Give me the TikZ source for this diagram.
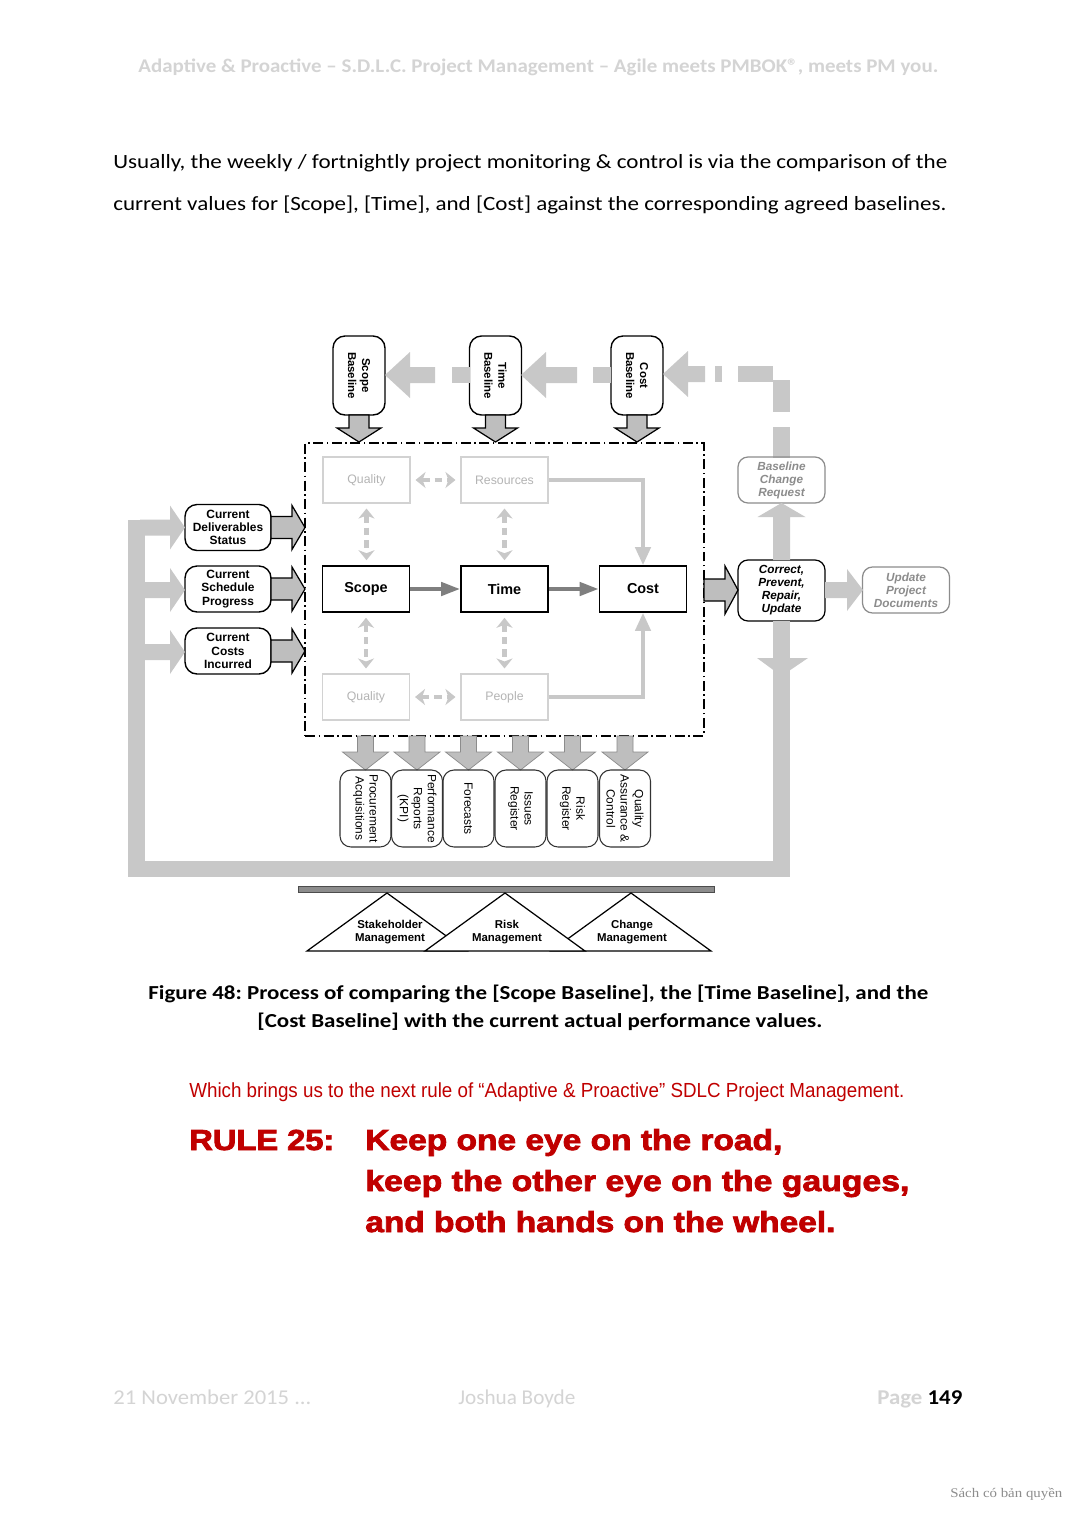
\documentclass[tikz,border=0pt]{standalone}
\usepackage{graphicx}
\usepackage{fontspec}
\setmainfont{Carlito}
\newfontfamily\arial{Liberation Sans}
\newfontfamily\rulefont[FakeBold=2.5]{Liberation Sans}
\newfontfamily\wmfont{Liberation Serif}
\usetikzlibrary{arrows.meta}
\frenchspacing
\newlength\pxu \setlength\pxu{0.02cm}
\newcommand\fitw[2]{\resizebox{#1\pxu}{\height}{#2}}
\definecolor{lgray}{HTML}{C8C8C8}
\definecolor{bgray}{HTML}{BEBEBE}
\definecolor{dgray}{HTML}{7F7F7F}
\definecolor{boxgray}{HTML}{D2D2D2}
\definecolor{txtgray}{HTML}{B4B4B4}
\definecolor{itgray}{HTML}{8C8C8C}
\definecolor{hdr}{HTML}{D4D4D4}
\definecolor{rulered}{HTML}{C00000}
% block arrows: style, from, to(tip), centre, shaft half, head half, head length
\newcommand\blkR[7]{\path[#1] (#2,{#4-#5}) -- ({#3-#7},{#4-#5}) -- ({#3-#7},{#4-#6}) -- (#3,#4) -- ({#3-#7},{#4+#6}) -- ({#3-#7},{#4+#5}) -- (#2,{#4+#5}) -- cycle;}
\newcommand\blkL[7]{\path[#1] (#2,{#4-#5}) -- ({#3+#7},{#4-#5}) -- ({#3+#7},{#4-#6}) -- (#3,#4) -- ({#3+#7},{#4+#6}) -- ({#3+#7},{#4+#5}) -- (#2,{#4+#5}) -- cycle;}
% style, x centre, from y, to y (tip), shaft half, head half, head length
\newcommand\blkD[7]{\path[#1] ({#2-#5},#3) -- ({#2-#5},{#4-#7}) -- ({#2-#6},{#4-#7}) -- (#2,#4) -- ({#2+#6},{#4-#7}) -- ({#2+#5},{#4-#7}) -- ({#2+#5},#3) -- cycle;}
\newcommand\blkU[7]{\path[#1] ({#2-#5},#3) -- ({#2-#5},{#4+#7}) -- ({#2-#6},{#4+#7}) -- (#2,#4) -- ({#2+#6},{#4+#7}) -- ({#2+#5},{#4+#7}) -- ({#2+#5},#3) -- cycle;}
\tikzset{
  lg/.style={fill=lgray},
  bl/.style={fill=bgray,draw=black,line width=0.7pt},
  bd/.style={fill=bgray,draw=itgray,line width=0.4pt},
  txt/.style={anchor=base west,inner sep=0pt},
  basebox/.style={draw=black,line width=0.8pt,rounded corners=0.24cm,rotate=-90,align=center,
    minimum width=1.58cm,minimum height=1.04cm,inner sep=0pt,font=\arial\bfseries\fontsize{6.5}{8}\selectfont},
  inbox/.style={draw=black,line width=0.8pt,rounded corners=0.24cm,align=center,
    minimum width=1.72cm,minimum height=0.92cm,inner sep=0pt,font=\arial\bfseries\fontsize{6.8}{7.5}\selectfont},
  sq/.style={draw=black,line width=0.9pt,minimum width=1.74cm,minimum height=0.92cm,inner sep=0pt,
    font=\arial\bfseries\fontsize{8.2}{9}\selectfont},
  gbox/.style={draw=boxgray,line width=0.6pt,text=txtgray,minimum width=1.74cm,minimum height=0.92cm,inner sep=0pt,
    font=\arial\fontsize{7}{8}\selectfont},
  itbox/.style={draw=itgray,line width=0.7pt,text=itgray,rounded corners=0.2cm,align=center,
    minimum width=1.74cm,minimum height=0.92cm,inner sep=0pt,font=\arial\bfseries\itshape\fontsize{6.7}{7.4}\selectfont},
  outbox/.style={draw=black!80,line width=0.6pt,rounded corners=0.22cm,rotate=-90,align=center,
    minimum width=1.54cm,minimum height=1.02cm,inner sep=0pt,font=\arial\fontsize{6.8}{8}\selectfont},
  dbl/.style={draw=lgray,line width=2.8pt,dash pattern=on 0.15cm off 0.1cm,
    {Stealth[length=0.2cm,width=0.32cm,inset=0.06cm]}-{Stealth[length=0.2cm,width=0.32cm,inset=0.06cm]},
    shorten <=0.1cm,shorten >=0.1cm},
  ddark/.style={draw=dgray,line width=2.4pt,-{Triangle[length=0.38cm,width=0.26cm]}},
  dlight/.style={draw=lgray,line width=2.3pt,-{Triangle[length=0.36cm,width=0.3cm]}},
  tri/.style={draw=black,line width=0.7pt,fill=white,line join=miter},
  trit/.style={align=center,inner sep=0pt,font=\arial\bfseries\fontsize{6.5}{7.4}\selectfont},
}
\begin{document}
\begin{tikzpicture}[x=0.02cm,y=-0.02cm]
\path[use as bounding box,fill=white] (0,0) rectangle (1077,1521);

% ---------- page text ----------
\node[txt,text=hdr,font=\bfseries\fontsize{11}{13}\selectfont] (header) at (138,72)
  {\fitw{800}{Adaptive \& Proactive – S.D.L.C. Project Management – Agile meets PMBOK®, meets PM you.}};
\node[txt,font=\fontsize{11.5}{14}\selectfont] (body1) at (113,168)
  {\fitw{834}{Usually, the weekly / fortnightly project monitoring \& control is via the comparison of the}};
\node[txt,font=\fontsize{11.5}{14}\selectfont] (body2) at (113,210)
  {\fitw{833}{current values for [Scope], [Time], and [Cost] against the corresponding agreed baselines.}};

% ---------- baselines ----------
\node[basebox] (sb) at (359,375.5) {Scope\\Baseline};
\node[basebox] (tb) at (495.5,375.5) {Time\\Baseline};
\node[basebox] (cb) at (637,375.5) {Cost\\Baseline};

% grey dashed feedback along the top
\blkL{lg}{435}{385}{375}{8}{23}{25}
\fill[lgray] (452,367) rectangle (470,383);
\blkL{lg}{577}{521}{375}{8}{23}{25}
\fill[lgray] (593,367) rectangle (611,383);
\blkL{lg}{705}{663}{374}{8}{23}{25}
\fill[lgray] (715,366) rectangle (722,382);
\fill[lgray] (738,366) rectangle (773,382);
\fill[lgray] (773,380) rectangle (790,412);
\fill[lgray] (773,427) rectangle (790,458);

% down arrows from baselines
\blkD{bl}{359}{415}{442}{10}{22}{14}
\blkD{bl}{495.5}{415}{442}{10}{22}{14}
\blkD{bl}{637}{415}{442}{10}{22}{14}

% ---------- frame ----------
\node[draw=black,line width=0.8pt,dash pattern=on 0.2cm off 0.07cm on 0.03cm off 0.07cm,
  minimum width=7.98cm,minimum height=5.86cm,inner sep=0pt] (frame) at (504.5,589.5) {};

\node[gbox] (q1) at (366.5,480) {Quality};
\node[gbox] (res) at (504.5,480) {Resources};
\node[gbox] (q2) at (366,697) {Quality};
\node[gbox] (ppl) at (504.5,697) {People};
\node[sq] (scope) at (366,589) {Scope};
\node[sq] (time) at (504.5,589) {Time};
\node[sq] (cost) at (643,589) {Cost};

\draw[ddark] (scope.east) -- (time.west);
\draw[ddark] (time.east) -- (cost.west);
\draw[dlight] (res.east) -| (cost.north);
\draw[dlight] (ppl.east) -| (cost.south);
\draw[dbl] (q1.east) -- (res.west);
\draw[dbl] (q2.east) -- (ppl.west);
\draw[dbl] (q1.south) -- (q1.south |- scope.north);
\draw[dbl] (res.south) -- (res.south |- time.north);
\draw[dbl] (scope.south) -- (scope.south |- q2.north);
\draw[dbl] (time.south) -- (time.south |- ppl.north);

% ---------- left inputs ----------
\node[inbox] (cds) at (228,527.5) {Current\\Deliverables\\Status};
\node[inbox] (csp) at (228,589) {Current\\Schedule\\Progress};
\node[inbox] (cci) at (228,651) {Current\\Costs\\Incurred};
\blkR{bl}{271}{305}{527.5}{11}{22}{13}
\blkR{bl}{271}{305}{589}{11}{22}{13}
\blkR{bl}{271}{305}{651}{11}{22}{13}

% ---------- right side ----------
\node[itbox] (bcr) at (781.5,480) {Baseline\\Change\\Request};
\node[itbox,draw=black,text=black,minimum height=1.22cm] (cpr) at (781.5,590.5) {Correct,\\Prevent,\\Repair,\\Update};
\node[itbox] (upd) at (906,590) {Update\\Project\\Documents};
\blkR{bl}{704}{738}{590}{11}{24}{13}
\blkR{lg}{825}{863}{590}{8}{21}{16}
\blkU{lg}{781.5}{560}{503}{8.5}{24}{14}

% big feedback loop
\fill[lgray] (773,621) rectangle (790,877);
\fill[lgray] (757,658) -- (808,658) -- (781.5,676) -- cycle;
\fill[lgray] (128,861) rectangle (790,877);
\fill[lgray] (128,519.5) rectangle (145,877);
\blkR{lg}{140}{185}{527.5}{8}{22}{15}
\blkR{lg}{140}{185}{590}{8}{22}{15}
\blkR{lg}{140}{185}{652}{8}{22}{15}

% ---------- outputs ----------
\foreach \xx/\nm/\tx in {365.5/o1/{Procurement\\Acquisitions},417/o2/{Performance\\Reports\\(KPI)},
  468.5/o3/{Forecasts},520.5/o4/{Issues\\Register},572.5/o5/{Risk\\Register},625/o6/{Quality\\Assurance \&\\Control}}{
  \blkD{bd}{\xx}{736}{770}{8}{23}{18}
  \node[outbox] (\nm) at (\xx,808.5) {\tx};
}

% ---------- foundation ----------
\path[fill=gray!90,draw=black!70,line width=0.5pt] (298,886) rectangle (714,892);
\path[tri] (387,893) -- (467,951) -- (307,951) -- cycle;
\path[tri] (631,893) -- (711,951) -- (551,951) -- cycle;
\path[tri] (505,893) -- (585,951) -- (425,951) -- cycle;
\node[trit] (sm) at (390,932) {Stakeholder\\Management};
\node[trit] (rm) at (507,932) {Risk\\Management};
\node[trit] (chm) at (632,932) {Change\\Management};

% ---------- caption and rule ----------
\node[txt,font=\bfseries\fontsize{11.3}{14}\selectfont] (cap1) at (148,999)
  {\fitw{780}{Figure 48: Process of comparing the [Scope Baseline], the [Time Baseline], and the}};
\node[txt,font=\bfseries\fontsize{11.3}{14}\selectfont] (cap2) at (257,1027)
  {\fitw{565}{[Cost Baseline] with the current actual performance values.}};
\node[txt,text=rulered,font=\arial\fontsize{11.6}{14}\selectfont] (which) at (189,1097)
  {\fitw{715}{Which brings us to the next rule of “Adaptive \& Proactive” SDLC Project Management.}};
\node[txt,text=rulered,font=\rulefont\bfseries\fontsize{16.5}{20}\selectfont] (rule) at (189,1150) {\fitw{145}{RULE 25:}};
\node[txt,text=rulered,font=\rulefont\bfseries\fontsize{16.5}{20}\selectfont] (r1) at (365,1150) {\fitw{417}{Keep one eye on the road,}};
\node[txt,text=rulered,font=\rulefont\bfseries\fontsize{16.5}{20}\selectfont] (r2) at (365,1191) {\fitw{544}{keep the other eye on the gauges,}};
\node[txt,text=rulered,font=\rulefont\bfseries\fontsize{16.5}{20}\selectfont] (r3) at (365,1232) {\fitw{470}{and both hands on the wheel.}};

% ---------- footer ----------
\node[txt,text=hdr,font=\fontsize{12}{14}\selectfont] (date) at (113,1404) {\fitw{198}{21 November 2015 ...}};
\node[txt,text=hdr,font=\fontsize{12}{14}\selectfont] (auth) at (458,1404) {\fitw{117}{Joshua Boyde}};
\node[txt,font=\fontsize{12}{14}\selectfont] (page) at (877,1404) {\fitw{85}{\textcolor{hdr}{\bfseries Page} \textbf{149}}};
\node[txt,text=black!45,font=\wmfont\fontsize{7.5}{9}\selectfont] (wm) at (950,1497) {\fitw{112}{Sách có bản quyền}};
\end{tikzpicture}
\end{document}
